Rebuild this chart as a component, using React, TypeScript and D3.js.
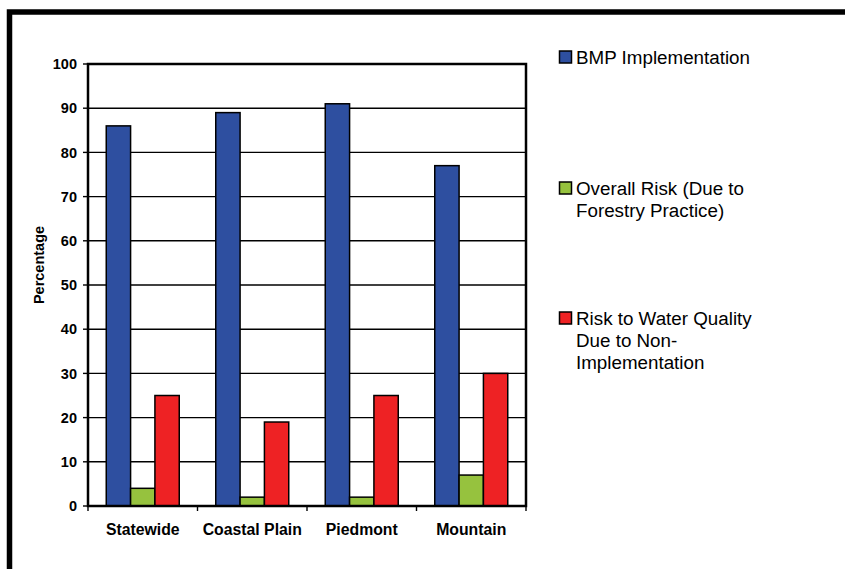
import React from 'react';
import * as d3 from 'd3';

const categories = ['Statewide', 'Coastal Plain', 'Piedmont', 'Mountain'];
const seriesNames = ['BMP Implementation', 'Overall Risk', 'Risk to Water Quality'];
const bmpImplementation = [86, 89, 91, 77];
const overallRisk = [4, 2, 2, 7];
const riskWaterQuality = [25, 19, 25, 30];
const yTicks = [0, 10, 20, 30, 40, 50, 60, 70, 80, 90, 100];
const legendLines = [
  ['BMP Implementation'],
  ['Overall Risk (Due to', 'Forestry Practice)'],
  ['Risk to Water Quality', 'Due to Non-', 'Implementation'],
];
const colors = ['#2e4fa0', '#96c23e', '#ee2224'];

const W = 845;
const H = 569;
const plot = { left: 88, right: 526, top: 64, bottom: 506 };

export default function App() {
  const series = [bmpImplementation, overallRisk, riskWaterQuality];
  const x = d3.scaleBand<string>().domain(categories).range([plot.left, plot.right]);
  const inner = d3
    .scaleBand<string>()
    .domain(seriesNames)
    .range([0, x.bandwidth()])
    .paddingInner(0)
    .paddingOuter(0.75);
  const y = d3.scaleLinear().domain([0, 100]).range([plot.bottom, plot.top]);

  const legendY = [57, 188, 318];
  const font = 'Arial, "Liberation Sans", sans-serif';

  return (
    <svg
      width={W}
      height={H}
      style={{ position: 'fixed', left: 0, top: 0, background: '#fff' }}
      fontFamily={font}
    >
      <rect width={W} height={H} fill="#fff" />
      {/* outer frame */}
      <path d={`M9.5,${H} V12 H${W}`} fill="none" stroke="#000" strokeWidth={5.5} />

      {/* gridlines */}
      {yTicks.slice(1, -1).map((t) => (
        <line key={t} x1={plot.left} x2={plot.right} y1={y(t)} y2={y(t)} stroke="#000" strokeWidth={1.4} />
      ))}

      {/* bars */}
      {categories.map((c, i) => (
        <g key={c}>
          {seriesNames.map((s, j) => (
            <rect
              key={s}
              x={(x(c) ?? 0) + (inner(s) ?? 0)}
              y={y(series[j][i])}
              width={inner.bandwidth()}
              height={y(0) - y(series[j][i])}
              fill={colors[j]}
              stroke="#000"
              strokeWidth={1.5}
            />
          ))}
        </g>
      ))}

      {/* plot border */}
      <rect
        x={plot.left}
        y={plot.top}
        width={plot.right - plot.left}
        height={plot.bottom - plot.top}
        fill="none"
        stroke="#000"
        strokeWidth={2.5}
      />

      {/* y axis */}
      {yTicks.map((t) => (
        <g key={t}>
          <line x1={plot.left - 5} x2={plot.left} y1={y(t)} y2={y(t)} stroke="#000" strokeWidth={1.4} />
          <text x={77} y={y(t)} dy="0.36em" textAnchor="end" fontSize={14.5} fontWeight="bold">
            {t}
          </text>
        </g>
      ))}
      <text
        transform={`translate(44,265) rotate(-90)`}
        textAnchor="middle"
        fontSize={14.5}
        fontWeight="bold"
      >
        Percentage
      </text>

      {/* x axis */}
      {[...categories.map((c) => x(c) ?? 0), plot.right].map((px, i) => (
        <line key={i} x1={px} x2={px} y1={plot.bottom} y2={plot.bottom + 5} stroke="#000" strokeWidth={1.4} />
      ))}
      {categories.map((c) => (
        <text
          key={c}
          x={(x(c) ?? 0) + x.bandwidth() / 2}
          y={535}
          textAnchor="middle"
          fontSize={15.8}
          fontWeight="bold"
        >
          {c}
        </text>
      ))}

      {/* legend */}
      {legendLines.map((lines, i) => (
        <g key={i}>
          <rect x={559.5} y={legendY[i] - 6} width={12} height={12} fill={colors[i]} stroke="#000" strokeWidth={1.5} />
          {lines.map((l, k) => (
            <text key={k} x={576} y={legendY[i] + k * 22} dy="0.36em" fontSize={18.8}>
              {l}
            </text>
          ))}
        </g>
      ))}
    </svg>
  );
}
